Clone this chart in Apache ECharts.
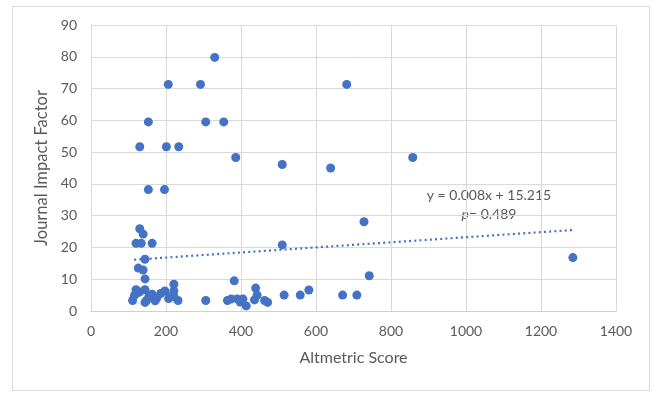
<!DOCTYPE html>
<html>
<head>
<meta charset="utf-8">
<script src="https://cdn.jsdelivr.net/npm/echarts@6/dist/echarts.min.js"></script>
<style>
  html, body { margin: 0; padding: 0; background: #fff; }
  #chart { width: 653px; height: 393px; }
</style>
</head>
<body>
<div id="chart"></div>
<script>
// Altmetric score (x) vs journal impact factor (y)
var altmetricScores = [
  330, 206, 292, 682,
  153, 306, 354,
  130, 201, 234,
  386, 858, 510, 639,
  153, 196,
  728,
  130, 139,
  120, 134, 163, 510,
  1285,
  144, 126, 139, 144,
  742, 382, 221, 439, 581,
  515, 558, 671, 709,
  306, 232, 414, 471, 463,
  364, 374, 390, 405, 398, 436, 443,
  111, 116, 120, 130, 144, 144, 154, 163, 171, 186, 197, 207, 213, 221, 221, 175, 148, 125
];
var impactFactors = [
  79.8, 71.3, 71.3, 71.3,
  59.5, 59.5, 59.5,
  51.7, 51.7, 51.7,
  48.3, 48.3, 46.1, 45.0,
  38.2, 38.2,
  28.1,
  25.9, 24.2,
  21.3, 21.3, 21.3, 20.8,
  16.8,
  16.3, 13.5, 12.9, 10.1,
  11.1, 9.5, 8.4, 7.2, 6.6,
  5.0, 5.0, 5.0, 5.0,
  3.3, 3.3, 1.6, 2.7, 3.3,
  3.3, 3.8, 3.8, 3.8, 2.8, 3.5, 5.0,
  3.3, 4.9, 6.7, 6.0, 6.7, 2.7, 4.4, 5.3, 3.2, 5.5, 6.3, 3.9, 4.6, 6.3, 4.6, 4.0, 3.3, 5.8
];

// linear trendline as printed on the chart
var trendSlope = 0.008;
var trendIntercept = 15.215;
var trendRange = [115, 1288];
var trendLabel = 'y = 0.008x + 15.215';
var pLabel = '= 0.489';

var xTicks = { min: 0, max: 1400, interval: 200 };
var yTicks = { min: 0, max: 90, interval: 10 };

var points = altmetricScores.map(function (x, i) { return [x, impactFactors[i]]; });
var trendPoints = trendRange.map(function (x) { return [x, trendSlope * x + trendIntercept]; });

var textColor = '#595959';
var fontFam = 'Lato, "Open Sans", sans-serif';

var chart = echarts.init(document.getElementById('chart'));
chart.setOption({
  animation: false,
  backgroundColor: '#fff',
  grid: { left: 91, right: 37, top: 25, bottom: 82 },
  xAxis: {
    type: 'value',
    min: xTicks.min, max: xTicks.max, interval: xTicks.interval,
    name: 'Altmetric Score',
    nameLocation: 'middle',
    nameGap: 39,
    nameTextStyle: { color: textColor, fontSize: 16, fontFamily: fontFam },
    axisLine: { show: true, lineStyle: { color: '#d0d0d0', width: 1 } },
    axisTick: { show: false },
    axisLabel: {
      color: textColor, fontSize: 14, fontFamily: fontFam, margin: 13,
      formatter: function (v) { return String(v); }
    },
    splitLine: { show: true, lineStyle: { color: '#d9d9d9', width: 1 } }
  },
  yAxis: {
    type: 'value',
    min: yTicks.min, max: yTicks.max, interval: yTicks.interval,
    name: 'Journal Impact Factor',
    nameLocation: 'middle',
    nameGap: 32,
    nameTextStyle: { color: textColor, fontSize: 16.5, fontFamily: fontFam },
    axisLine: { show: true, lineStyle: { color: '#d9d9d9', width: 1 } },
    axisTick: { show: false },
    axisLabel: { color: textColor, fontSize: 14, fontFamily: fontFam, margin: 14 },
    splitLine: { show: true, lineStyle: { color: '#d9d9d9', width: 1 } }
  },
  graphic: [
    {
      type: 'rect',
      shape: { x: 12.5, y: 6.5, width: 637, height: 384 },
      style: { fill: 'none', stroke: '#d9d9d9', lineWidth: 1 },
      silent: true
    },
    {
      type: 'text',
      x: 489, y: 188,
      style: {
        text: trendLabel,
        fill: textColor,
        font: '14px ' + fontFam,
        align: 'center',
        verticalAlign: 'top'
      }
    },
    {
      type: 'text',
      x: 489, y: 207,
      style: {
        text: '{i|p}{n|' + pLabel + '}',
        align: 'center',
        verticalAlign: 'top',
        rich: {
          i: { fill: textColor, fontSize: 14, fontStyle: 'italic', fontFamily: fontFam },
          n: { fill: textColor, fontSize: 14, fontFamily: fontFam }
        }
      }
    }
  ],
  series: [
    {
      type: 'line',
      data: trendPoints,
      symbol: 'none',
      silent: true,
      lineStyle: { color: '#4472C4', width: 2.2, type: [2, 3.2] },
      z: 1
    },
    {
      type: 'scatter',
      data: points,
      symbolSize: 9,
      itemStyle: { color: '#4472C4', opacity: 1 },
      z: 2
    }
  ]
});
</script>
</body>
</html>
